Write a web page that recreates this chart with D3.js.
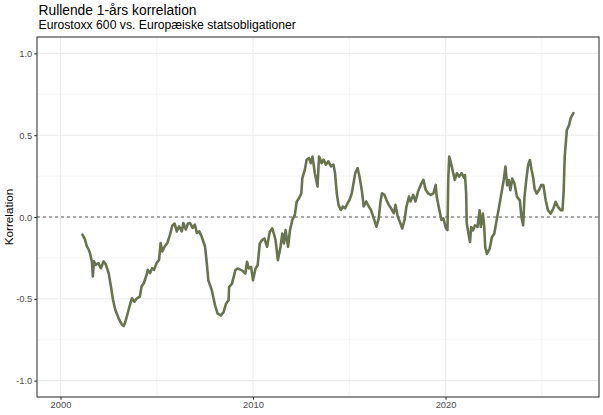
<!DOCTYPE html>
<html>
<head>
<meta charset="utf-8">
<script src="https://cdn.jsdelivr.net/npm/d3@7.9.0/dist/d3.min.js"></script>
<style>
  html, body { margin: 0; padding: 0; background: #fff; }
  svg { display: block; font-family: "Liberation Sans", Arial, sans-serif; }
</style>
</head>
<body>
<svg id="chart" width="603" height="415"></svg>
<script>
// decimal years
const dates = [
  2001.14, 2001.27, 2001.37, 2001.46, 2001.53, 2001.63, 2001.68, 2001.74, 2001.84, 2001.97,
  2002.10, 2002.24, 2002.36, 2002.50, 2002.62, 2002.73, 2002.85, 2003.02, 2003.20, 2003.28,
  2003.37, 2003.49, 2003.63, 2003.71, 2003.84, 2003.97, 2004.12, 2004.21, 2004.33, 2004.47,
  2004.54, 2004.65, 2004.76, 2004.86, 2004.99, 2005.12, 2005.20, 2005.29, 2005.41, 2005.55,
  2005.69, 2005.81, 2005.93, 2006.04, 2006.16, 2006.30, 2006.38, 2006.51, 2006.62, 2006.73,
  2006.86, 2006.98, 2007.08, 2007.21, 2007.33, 2007.51, 2007.60, 2007.68, 2007.86, 2008.03,
  2008.16, 2008.33, 2008.47, 2008.60, 2008.73, 2008.76, 2008.91, 2009.08, 2009.20, 2009.43,
  2009.60, 2009.69, 2009.78, 2009.90, 2010.00, 2010.13, 2010.24, 2010.35, 2010.47, 2010.59,
  2010.73, 2010.87, 2011.00, 2011.08, 2011.17, 2011.29, 2011.43, 2011.52, 2011.61, 2011.69,
  2011.82, 2011.92, 2012.04, 2012.17, 2012.27, 2012.39, 2012.51, 2012.56, 2012.69, 2012.79,
  2012.91, 2013.00, 2013.09, 2013.21, 2013.35, 2013.43, 2013.56, 2013.66, 2013.78, 2013.91,
  2014.05, 2014.18, 2014.26, 2014.35, 2014.44, 2014.56, 2014.67, 2014.78, 2014.91, 2015.01,
  2015.13, 2015.22, 2015.31, 2015.43, 2015.53, 2015.66, 2015.75, 2015.88, 2016.01, 2016.13,
  2016.27, 2016.41, 2016.53, 2016.62, 2016.70, 2016.83, 2016.93, 2017.05, 2017.17, 2017.31,
  2017.40, 2017.52, 2017.66, 2017.75, 2017.87, 2017.97, 2018.10, 2018.18, 2018.32, 2018.44,
  2018.57, 2018.71, 2018.85, 2018.97, 2019.09, 2019.23, 2019.37, 2019.49, 2019.54, 2019.66,
  2019.79, 2019.89, 2020.02, 2020.10, 2020.14, 2020.19, 2020.28, 2020.36, 2020.48, 2020.59,
  2020.71, 2020.83, 2020.97, 2021.01, 2021.07, 2021.10, 2021.19, 2021.27, 2021.33, 2021.42,
  2021.53, 2021.66, 2021.77, 2021.83, 2021.94, 2022.01, 2022.06, 2022.15, 2022.29, 2022.41,
  2022.53, 2022.67, 2022.81, 2022.93, 2023.02, 2023.11, 2023.20, 2023.28, 2023.37, 2023.46,
  2023.58, 2023.71, 2023.86, 2023.94, 2024.03, 2024.10, 2024.20, 2024.29, 2024.38, 2024.47,
  2024.56, 2024.62, 2024.73, 2024.85, 2024.97, 2025.08, 2025.20, 2025.32, 2025.46, 2025.60,
  2025.72, 2025.84, 2025.98, 2026.07, 2026.13, 2026.19, 2026.30, 2026.42, 2026.50, 2026.64
];

const correlation = [
  -0.108, -0.137, -0.180, -0.198, -0.221, -0.271, -0.363, -0.271, -0.292, -0.282,
  -0.313, -0.271, -0.292, -0.343, -0.424, -0.507, -0.568, -0.619, -0.660, -0.666,
  -0.640, -0.588, -0.527, -0.497, -0.517, -0.497, -0.487, -0.424, -0.405, -0.354,
  -0.323, -0.343, -0.313, -0.323, -0.282, -0.262, -0.159, -0.210, -0.180, -0.159,
  -0.108, -0.052, -0.040, -0.088, -0.057, -0.088, -0.037, -0.076, -0.040, -0.037,
  -0.067, -0.046, -0.098, -0.088, -0.119, -0.182, -0.284, -0.387, -0.448, -0.540,
  -0.591, -0.601, -0.581, -0.530, -0.509, -0.428, -0.407, -0.326, -0.315, -0.326,
  -0.346, -0.274, -0.315, -0.305, -0.387, -0.315, -0.295, -0.162, -0.141, -0.131,
  -0.182, -0.090, -0.070, -0.101, -0.141, -0.264, -0.182, -0.101, -0.162, -0.080,
  -0.182, -0.080, -0.018, 0.012, 0.095, 0.115, 0.145, 0.237, 0.288, 0.351,
  0.360, 0.329, 0.370, 0.268, 0.186, 0.370, 0.329, 0.351, 0.320, 0.340,
  0.309, 0.320, 0.268, 0.145, 0.074, 0.043, 0.064, 0.053, 0.084, 0.104,
  0.145, 0.207, 0.268, 0.299, 0.247, 0.155, 0.064, 0.095, 0.064, 0.043,
  -0.009, -0.059, -0.009, 0.095, 0.145, 0.135, 0.104, 0.074, 0.053, 0.023,
  0.074, 0.002, -0.040, -0.070, -0.018, 0.064, 0.125, 0.095, 0.135, 0.095,
  0.155, 0.196, 0.227, 0.166, 0.145, 0.135, 0.145, 0.196, 0.125, 0.053,
  -0.018, -0.009, -0.070, -0.080, 0.227, 0.370, 0.329, 0.288, 0.227, 0.268,
  0.247, 0.268, 0.237, 0.256, 0.143, -0.040, -0.101, -0.153, -0.061, -0.082,
  -0.051, -0.061, 0.041, -0.061, 0.021, -0.061, -0.184, -0.225, -0.194, -0.123,
  -0.102, -0.010, 0.082, 0.164, 0.226, 0.308, 0.195, 0.226, 0.164, 0.235,
  0.204, 0.123, 0.102, 0.001, -0.051, 0.123, 0.235, 0.318, 0.348, 0.287,
  0.235, 0.174, 0.143, 0.164, 0.195, 0.195, 0.102, 0.041, 0.021, 0.052,
  0.093, 0.062, 0.041, 0.041, 0.143, 0.369, 0.532, 0.563, 0.604, 0.635
];

const xMajor = [2000, 2010, 2020];
const xMinor = [2005, 2015, 2025];
const yMajor = [-1, -0.5, 0, 0.5, 1];
const yMinor = [-0.75, -0.25, 0.25, 0.75];

const title = 'Rullende 1-års korrelation';
const subtitle = 'Eurostoxx 600 vs. Europæiske statsobligationer';
const yTitle = 'Korrelation';

const width = 603;
const height = 415;
const margin = { top: 37, right: 4, bottom: 18, left: 37 };

const data = dates.map((d, i) => ({ date: d, value: correlation[i] }));

const svg = d3.select('#chart');

// ggplot-like expansion, first year of the window is empty (starts 2000.1)
const x = d3.scaleLinear()
  .domain([1998.78, 2027.97])
  .range([margin.left, width - margin.right]);

const y = d3.scaleLinear()
  .domain([-1.1, 1.1])
  .range([height - margin.bottom, margin.top]);

const grid = svg.append('g');

grid.selectAll('.minor-x')
  .data(xMinor)
  .enter()
  .append('line')
  .attr('x1', d => x(d)).attr('x2', d => x(d))
  .attr('y1', margin.top).attr('y2', height - margin.bottom)
  .attr('stroke', '#ebebeb').attr('stroke-width', 0.55);

grid.selectAll('.minor-y')
  .data(yMinor)
  .enter()
  .append('line')
  .attr('x1', margin.left).attr('x2', width - margin.right)
  .attr('y1', d => y(d)).attr('y2', d => y(d))
  .attr('stroke', '#ebebeb').attr('stroke-width', 0.55);

grid.selectAll('.major-x')
  .data(xMajor)
  .enter()
  .append('line')
  .attr('x1', d => x(d)).attr('x2', d => x(d))
  .attr('y1', margin.top).attr('y2', height - margin.bottom)
  .attr('stroke', '#ebebeb').attr('stroke-width', 1.07);

grid.selectAll('.major-y')
  .data(yMajor)
  .enter()
  .append('line')
  .attr('x1', margin.left).attr('x2', width - margin.right)
  .attr('y1', d => y(d)).attr('y2', d => y(d))
  .attr('stroke', '#ebebeb').attr('stroke-width', 1.07);

// zero line
svg.append('line')
  .attr('x1', margin.left).attr('x2', width - margin.right)
  .attr('y1', y(0)).attr('y2', y(0))
  .attr('stroke', '#333').attr('stroke-width', 0.8)
  .attr('stroke-dasharray', '3,3');

const line = d3.line()
  .x(d => x(d.date))
  .y(d => y(d.value));

svg.append('path')
  .datum(data)
  .attr('d', line)
  .attr('fill', 'none')
  .attr('stroke', '#68744f')
  .attr('stroke-width', 2.6)
  .attr('stroke-linejoin', 'round')
  .attr('stroke-linecap', 'round');

// panel border
svg.append('rect')
  .attr('x', margin.left).attr('y', margin.top)
  .attr('width', width - margin.left - margin.right)
  .attr('height', height - margin.top - margin.bottom)
  .attr('fill', 'none')
  .attr('stroke', '#333').attr('stroke-width', 1.07);

const xAxis = svg.append('g')
  .attr('transform', `translate(0,${height - margin.bottom})`)
  .call(d3.axisBottom(x).tickValues(xMajor).tickFormat(d3.format('d')).tickSize(2.7).tickPadding(2));

const yAxis = svg.append('g')
  .attr('transform', `translate(${margin.left},0)`)
  .call(d3.axisLeft(y).tickValues(yMajor).tickFormat(d3.format('.1f')).tickSize(2.7).tickPadding(2));

[xAxis, yAxis].forEach(ax => {
  ax.select('.domain').remove();
  ax.selectAll('.tick line').attr('stroke', '#333').attr('stroke-width', 1.07);
  ax.selectAll('.tick text')
    .attr('fill', '#4d4d4d')
    .style('font-size', '9.4px')
    .style('font-family', '"Liberation Sans", Arial, sans-serif');
});

yAxis.selectAll('.tick text').text(d => d3.format('.1f')(d).replace('−', '-'));

svg.append('text')
  .attr('transform', `translate(13,${(margin.top + height - margin.bottom) / 2}) rotate(-90)`)
  .attr('text-anchor', 'middle')
  .attr('fill', '#000')
  .style('font-size', '11.7px')
  .text(yTitle);

svg.append('text')
  .attr('x', margin.left + 1.5)
  .attr('y', 15)
  .attr('fill', '#000')
  .style('font-size', '13.8px')
  .text(title);

svg.append('text')
  .attr('x', margin.left + 1.5)
  .attr('y', 29)
  .attr('fill', '#000')
  .style('font-size', '12.2px')
  .text(subtitle);
</script>
</body>
</html>
